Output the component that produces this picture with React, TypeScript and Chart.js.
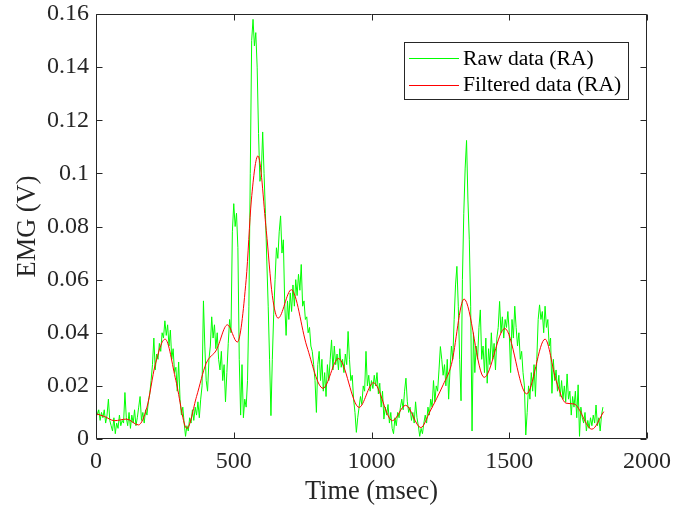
import React, { useEffect, useRef } from "react";
import { Chart, registerables } from "chart.js";

Chart.register(...registerables);

// ---------- data ----------
const SERIES_LABELS = ["Raw data (RA)", "Filtered data (RA)"];
const X_TITLE = "Time (msec)";
const Y_TITLE = "EMG (V)";
const X_TICKS = [0, 500, 1000, 1500, 2000];
const Y_TICKS = [0, 0.02, 0.04, 0.06, 0.08, 0.1, 0.12, 0.14, 0.16];

// raw EMG samples (in mV), one every 5 ms starting at 0 ms
const RAW_STEP_MS = 5;
const RAW_MV = [
  12, 9, 11, 7, 10, 8, 11, 6, 9, 15, 7, 5, 3, 8, 2, 6, 4, 9, 5, 7,
  6, 17.5, 8, 5, 10, 4, 9, 6, 11, 5, 8, 12, 16, 7, 10, 6, 11, 9, 14, 17,
  22, 28, 38, 26, 32, 30, 36, 33, 40, 38, 44.5, 39, 43, 35, 41, 30, 34, 25, 27, 18,
  29, 15, 9, 12, 6, 1, 5, 3, 8, 6, 11, 7, 12, 9, 14, 8, 15, 20, 52, 35,
  22, 18, 30, 35, 46, 38, 43, 34, 40, 30, 26, 33, 22, 28, 14, 25, 36, 45, 40, 78,
  88.6, 80, 85, 72, 30, 9, 28, 8, 15, 12, 22, 50, 100, 150, 158, 148, 153, 140, 115, 97,
  100, 115.6, 100, 85, 67, 50, 30, 8.8, 30, 47, 60, 72, 68, 78, 84, 70, 75, 51, 39, 52,
  45, 55, 48, 58, 50, 60, 54, 62, 56, 65.7, 50, 52, 45, 46, 40, 42, 35, 33, 28, 22,
  10, 28, 33, 22, 30, 18, 25, 16, 28, 22, 30, 37.3, 26, 35, 28, 32, 26, 34, 27, 30,
  25, 32, 28, 40.5, 30, 22, 24, 15, 10, 2.5, 8, 12, 16, 13, 20, 18, 33, 20, 24, 18,
  22, 19, 24, 20, 25, 17, 21, 12, 18, 7.5, 12, 9, 13, 6, 10, 4, 2, 8, 5, 10,
  8, 12, 15, 11, 18, 22.9, 14, 10, 12, 7, 10, 6, 14, 8, 5, 1, 4, 2, 6, 9,
  6, 12, 9, 15, 12, 22, 14, 20, 18, 26, 34.8, 30, 24, 28, 20, 30, 15, 26, 35, 30,
  45, 58, 65, 50, 30, 14.4, 60, 85, 102, 112.4, 90, 75, 50, 3, 40, 25, 35, 30, 42, 48.6,
  30, 35, 25, 38, 21, 34, 28, 40, 30, 36, 26, 38, 42, 51.8, 40, 46, 38, 45, 42, 48,
  40, 25, 45, 38, 50, 42, 35, 40, 30, 33, 25, 20, 1.5, 10, 20, 15, 25, 18, 28, 16,
  30, 45, 50.5, 45, 48, 40, 50, 42, 45, 35, 38, 17.2, 30, 22, 26, 18, 24, 16, 22, 15,
  20, 14, 24.5, 15, 18, 9, 16, 12, 18, 8, 20.4, 1, 12, 8, 6, 10, 3, 7, 4, 8,
  5, 9, 6, 12.8, 5, 8, 3, 9, 12,
];

// filtered EMG (V) at read-off times (ms)
const FILT_T = [
  0, 30, 67, 111, 154, 185, 215, 251, 290, 330, 365, 400, 437, 477, 513, 545, 564, 588,
  618, 640, 661, 709, 765, 824, 880, 955, 1007, 1076, 1124, 1179, 1212, 1260, 1290,
  1336, 1409, 1484, 1563, 1630, 1670, 1706, 1735, 1800, 1843,
];
const FILT_V = [
  0.0095, 0.0085, 0.0069, 0.0075, 0.0053, 0.012, 0.028, 0.0376, 0.022, 0.004, 0.016,
  0.0285, 0.0335, 0.043, 0.0365, 0.06, 0.09, 0.1066, 0.0785, 0.054, 0.0455, 0.0562,
  0.035, 0.0191, 0.0303, 0.0119, 0.0212, 0.0069, 0.0127, 0.0043, 0.0103, 0.0204, 0.028,
  0.0527, 0.0232, 0.0416, 0.017, 0.0376, 0.022, 0.0135, 0.0132, 0.0037, 0.0103,
];

// ---------- styling ----------
const FONT = "'Liberation Serif', 'Times New Roman', serif";
const AXIS_COLOR = "#262626";
const COLORS = ["#00ff00", "#ff0000"];

const framePlugin = {
  id: "matlabFrame",
  afterDraw(chart: any) {
    const { ctx, chartArea, scales } = chart;
    const L = Math.round(chartArea.left) + 0.5;
    const R = Math.round(chartArea.right) - 0.5;
    const T = Math.round(chartArea.top) + 0.5;
    const B = Math.round(chartArea.bottom) - 0.5;
    const TL = 6;
    ctx.save();
    ctx.strokeStyle = AXIS_COLOR;
    ctx.lineWidth = 1;
    ctx.beginPath();
    ctx.rect(L, T, R - L, B - T);
    for (const t of scales.x.ticks) {
      const px = Math.round(scales.x.getPixelForValue(t.value)) + 0.5;
      ctx.moveTo(px, B);
      ctx.lineTo(px, B - TL);
      ctx.moveTo(px, T);
      ctx.lineTo(px, T + TL);
    }
    for (const t of scales.y.ticks) {
      const py = Math.round(scales.y.getPixelForValue(t.value)) + 0.5;
      ctx.moveTo(L, py);
      ctx.lineTo(L + TL, py);
      ctx.moveTo(R, py);
      ctx.lineTo(R - TL, py);
    }
    ctx.stroke();

    // legend box (MATLAB style)
    const fontSize = 21.6;
    ctx.font = `${fontSize}px ${FONT}`;
    const labels = chart.data.datasets.map((d: any) => d.label);
    const maxW = Math.max(...labels.map((s: string) => ctx.measureText(s).width));
    const textOffset = 59;
    const boxW = Math.round(textOffset + maxW + 7);
    const boxH = 57;
    const boxRight = Math.round(chartArea.right) - 19;
    const boxLeft = boxRight - boxW;
    const boxTop = Math.round(chartArea.top) + 28;
    ctx.fillStyle = "#ffffff";
    ctx.fillRect(boxLeft, boxTop, boxW, boxH);
    ctx.strokeStyle = AXIS_COLOR;
    ctx.strokeRect(boxLeft + 0.5, boxTop + 0.5, boxW, boxH);
    const rowY = [boxTop + 16, boxTop + 42.5];
    chart.data.datasets.forEach((d: any, i: number) => {
      const y = Math.round(rowY[i]) + 0.5;
      ctx.strokeStyle = d.borderColor;
      ctx.lineWidth = 1;
      ctx.beginPath();
      ctx.moveTo(boxLeft + 5, y);
      ctx.lineTo(boxLeft + 55, y);
      ctx.stroke();
      ctx.fillStyle = "#000000";
      ctx.textBaseline = "middle";
      ctx.textAlign = "left";
      ctx.fillText(d.label, boxLeft + textOffset, rowY[i] + 1);
    });
    ctx.restore();
  },
};

export default function App() {
  const canvasRef = useRef<HTMLCanvasElement | null>(null);

  useEffect(() => {
    const canvas = canvasRef.current;
    if (!canvas) return;
    const rawData = RAW_MV.map((v, i) => ({ x: i * RAW_STEP_MS, y: v / 1000 }));
    const filtData = FILT_T.map((t, i) => ({ x: t, y: FILT_V[i] }));

    const chart = new Chart(canvas, {
      type: "line",
      data: {
        datasets: [
          {
            label: SERIES_LABELS[0],
            data: rawData,
            borderColor: COLORS[0],
            backgroundColor: COLORS[0],
            borderWidth: 1,
            pointRadius: 0,
            tension: 0,
            order: 2,
          },
          {
            label: SERIES_LABELS[1],
            data: filtData,
            borderColor: COLORS[1],
            backgroundColor: COLORS[1],
            borderWidth: 1,
            pointRadius: 0,
            cubicInterpolationMode: "monotone",
            order: 1,
          },
        ],
      },
      options: {
        animation: false,
        responsive: false,
        devicePixelRatio: 1,
        layout: { padding: { left: 0, right: 26, top: 14, bottom: 0 } },
        plugins: { legend: { display: false }, tooltip: { enabled: false } },
        scales: {
          x: {
            type: "linear",
            min: 0,
            max: 2000,
            afterBuildTicks: (s: any) => {
              s.ticks = X_TICKS.map((value) => ({ value }));
            },
            afterFit: (s: any) => {
              s.height = 69;
              s.paddingLeft = 0;
              s.paddingRight = 0;
            },
            grid: { display: false, drawTicks: false },
            border: { display: false },
            ticks: {
              color: AXIS_COLOR,
              font: { family: FONT, size: 24 },
              padding: 8,
              maxRotation: 0,
              autoSkip: false,
              callback: (v: any) => String(v),
            },
            title: {
              display: true,
              text: X_TITLE,
              color: AXIS_COLOR,
              font: { family: FONT, size: 26.4 },
              padding: { top: 0, bottom: 0 },
            },
          },
          y: {
            type: "linear",
            min: 0,
            max: 0.16,
            afterBuildTicks: (s: any) => {
              s.ticks = Y_TICKS.map((value) => ({ value }));
            },
            afterFit: (s: any) => {
              s.width = 96;
              s.paddingTop = 0;
              s.paddingBottom = 0;
            },
            grid: { display: false, drawTicks: false },
            border: { display: false },
            ticks: {
              color: AXIS_COLOR,
              font: { family: FONT, size: 24 },
              padding: 7,
              autoSkip: false,
              callback: (v: any) => String(Number(Number(v).toFixed(2))),
            },
            title: {
              display: true,
              text: Y_TITLE,
              color: AXIS_COLOR,
              font: { family: FONT, size: 26.4 },
              padding: { top: 12, bottom: 0 },
            },
          },
        },
      },
      plugins: [framePlugin],
    } as any);

    return () => chart.destroy();
  }, []);

  return (
    <div style={{ position: "absolute", left: 0, top: 0, width: 673, height: 508, background: "#fff" }}>
      <canvas ref={canvasRef} width={673} height={508} style={{ width: 673, height: 508 }} />
    </div>
  );
}
